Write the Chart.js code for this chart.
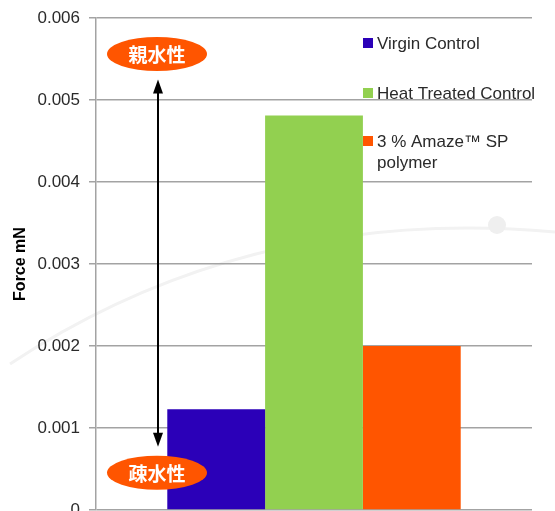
<!DOCTYPE html>
<html>
<head>
<meta charset="utf-8">
<script src="https://cdn.jsdelivr.net/npm/chart.js@4/dist/chart.umd.min.js"></script>
<style>
html, body { margin: 0; padding: 0; background: #fff; }
</style>
</head>
<body>
<canvas id="myChart" width="555" height="511"></canvas>
<script>
// data
const categories = [''];
const seriesNames = ['Virgin Control', 'Heat Treated Control', '3 % Amaze™ SP polymer'];
const legendLines = [['Virgin Control'], ['Heat Treated Control'], ['3 % Amaze™ SP', 'polymer']];
const virgin = [0.00123];
const heatTreated = [0.00481];
const amaze = [0.00200];
const seriesColors = ['#2b00b8', '#92d050', '#ff5500'];
const yMin = 0, yMax = 0.006, yStep = 0.001;
const yTitle = 'Force mN';
const topNote = '親水性';
const bottomNote = '疎水性';

const textColor = '#2a2a2a';
const gridColor = '#a3a3a3';

function drawEllipseNote(ctx, cx, cy, text){
    ctx.save();
    ctx.fillStyle = '#ff5500';
    ctx.beginPath();
    ctx.ellipse(cx, cy, 50, 17, 0, 0, Math.PI * 2);
    ctx.fill();
    ctx.fillStyle = '#fff';
    ctx.font = 'bold 19px "Noto Sans CJK JP"';
    ctx.textAlign = 'center';
    ctx.textBaseline = 'middle';
    ctx.fillText(text, cx, cy + 1);
    ctx.restore();
}

function arrowHead(ctx, x, y, dir){
    ctx.beginPath();
    ctx.moveTo(x, y);
    ctx.lineTo(x - 5, y - dir * 14);
    ctx.lineTo(x + 5, y - dir * 14);
    ctx.closePath();
    ctx.fill();
}

const decorations = {
    id: 'decorations',
    beforeDraw(chart){
        const ctx = chart.ctx;
        ctx.save();
        ctx.fillStyle = '#fff';
        ctx.fillRect(0, 0, chart.width, chart.height);
        // faint background swoosh
        ctx.strokeStyle = '#f2f2f2';
        ctx.lineWidth = 3;
        ctx.beginPath();
        ctx.moveTo(10, 364);
        ctx.quadraticCurveTo(250, 205, 555, 232);
        ctx.stroke();
        ctx.fillStyle = '#efefef';
        ctx.beginPath();
        ctx.arc(497, 225, 9, 0, Math.PI * 2);
        ctx.fill();
        ctx.restore();
    },
    afterDatasetsDraw(chart){
        const ctx = chart.ctx;
        const y = chart.scales.y;
        const ax = 158;
        const top = y.getPixelForValue(0.00525);
        const bottom = y.getPixelForValue(0.00077);
        ctx.save();
        ctx.strokeStyle = '#000';
        ctx.fillStyle = '#000';
        ctx.lineWidth = 2;
        ctx.beginPath();
        ctx.moveTo(ax, top + 10);
        ctx.lineTo(ax, bottom - 10);
        ctx.stroke();
        arrowHead(ctx, ax, top, -1);
        arrowHead(ctx, ax, bottom, 1);
        ctx.restore();
        drawEllipseNote(ctx, 157, y.getPixelForValue(0.00556), topNote);
        drawEllipseNote(ctx, 157, y.getPixelForValue(0.000455), bottomNote);
    },
    afterDraw(chart){
        const ctx = chart.ctx;
        const rows = [38, 88, 136];
        ctx.save();
        ctx.font = '17px "Liberation Sans", Arial, sans-serif';
        ctx.textBaseline = 'alphabetic';
        ctx.textAlign = 'left';
        legendLines.forEach((lines, i) => {
            ctx.fillStyle = seriesColors[i];
            ctx.fillRect(363, rows[i], 10, 10);
            ctx.fillStyle = textColor;
            lines.forEach((line, j) => {
                ctx.fillText(line, 377, rows[i] + 11 + j * 21);
            });
        });
        ctx.restore();
    }
};

const ctx = document.querySelector('#myChart').getContext('2d');
const myChart = new Chart(ctx, {
    type: 'bar',
    data: {
        labels: categories,
        datasets: [
            { label: seriesNames[0], data: virgin, backgroundColor: seriesColors[0] },
            { label: seriesNames[1], data: heatTreated, backgroundColor: seriesColors[1] },
            { label: seriesNames[2], data: amaze, backgroundColor: seriesColors[2] }
        ]
    },
    options: {
        responsive: false,
        animation: false,
        devicePixelRatio: 1,
        layout: {
            padding: { top: 18, right: 23, bottom: 1, left: 0 }
        },
        datasets: {
            bar: {
                barPercentage: 1,
                categoryPercentage: 0.673
            }
        },
        plugins: {
            legend: { display: false },
            tooltip: { enabled: false }
        },
        scales: {
            x: {
                display: false
            },
            y: {
                min: yMin,
                max: yMax,
                afterFit: scale => {
                    scale.width = 96;
                    scale.paddingTop = 0;
                    scale.paddingBottom = 0;
                },
                border: { display: true, color: gridColor, width: 1.5 },
                grid: {
                    color: gridColor,
                    lineWidth: 1.5,
                    tickLength: 7
                },
                ticks: {
                    stepSize: yStep,
                    padding: 9,
                    color: textColor,
                    font: { family: '"Liberation Sans", Arial, sans-serif', size: 17 },
                    callback: v => v === 0 ? '0' : v.toFixed(3)
                },
                title: {
                    display: true,
                    text: yTitle,
                    color: '#000',
                    padding: { top: 11, bottom: 0 },
                    font: { family: '"Liberation Sans", Arial, sans-serif', size: 16, weight: 'bold' }
                }
            }
        }
    },
    plugins: [decorations]
});
</script>
</body>
</html>
